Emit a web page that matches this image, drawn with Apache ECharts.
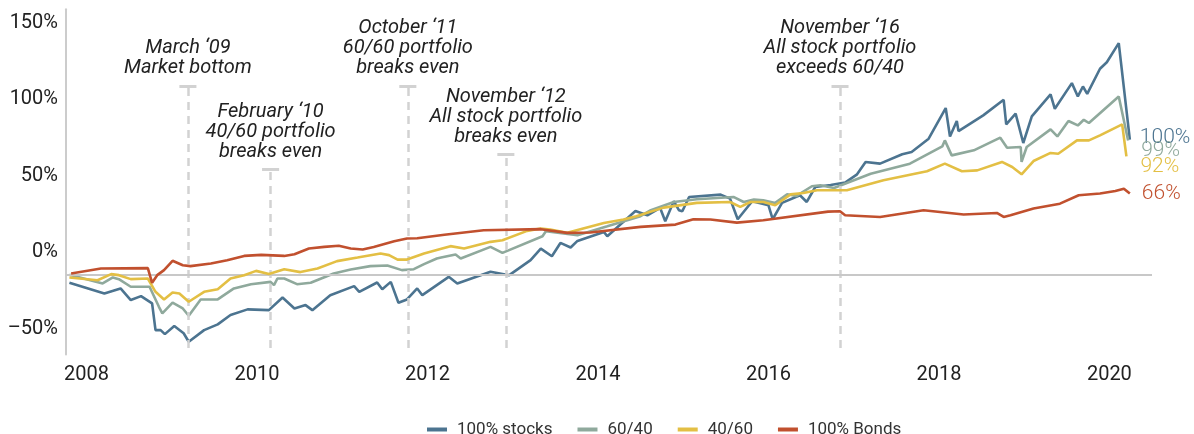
<!DOCTYPE html>
<html>
<head>
<meta charset="utf-8">
<script src="https://cdn.jsdelivr.net/npm/echarts@6/dist/echarts.min.js"></script>
<style>
  html, body { margin: 0; padding: 0; background: #fff; }
  #chart { width: 1194px; height: 434px; }
</style>
</head>
<body>
<div id="chart"></div>
<script>
// cumulative return (%) by date (decimal year)
var stocks = [
  [2007.80,-5],[2008.21,-12],[2008.40,-8.7],[2008.52,-16.3],[2008.64,-13.7],[2008.77,-18.5],
  [2008.81,-36],[2008.87,-36],[2008.92,-38.6],[2009.03,-33.3],[2009.14,-38],[2009.20,-43.6],
  [2009.38,-36],[2009.54,-32.2],[2009.69,-26.1],[2009.89,-22.4],[2010.14,-22.9],[2010.30,-14.6],
  [2010.44,-21.8],[2010.57,-19.6],[2010.65,-22.9],[2010.86,-13.1],[2011.14,-7.2],[2011.20,-10.9],
  [2011.41,-4.8],[2011.47,-9.2],[2011.57,-4.4],[2011.66,-18.1],[2011.76,-15.9],[2011.88,-8.7],
  [2011.94,-13.1],[2012.25,-1.1],[2012.35,-5.4],[2012.74,2.2],[2012.96,0],[2013.21,9.8],
  [2013.33,17.4],[2013.46,12.4],[2013.56,21.1],[2013.68,18.1],[2013.76,22.4],[2014.07,28.3],
  [2014.11,25.5],[2014.44,42],[2014.58,39.2],[2014.73,44],[2014.79,35.3],[2014.89,48.4],
  [2014.95,42.5],[2014.99,41.8],[2015.07,51.2],[2015.44,52.7],[2015.55,50.1],[2015.64,36.6],
  [2015.81,48.4],[2016.00,45.8],[2016.05,36.6],[2016.16,47.3],[2016.37,52.3],[2016.45,47.9],
  [2016.55,57.7],[2016.73,59],[2016.90,60.6],[2017.04,66],[2017.14,74.1],[2017.31,73],
  [2017.57,79.1],[2017.68,80.6],[2017.88,89.3],[2018.08,109.4],[2018.13,90.8],[2018.21,100.9],
  [2018.23,94.3],[2018.52,104.6],[2018.76,114.8],[2018.79,98.7],[2018.90,105.7],[2018.99,86.5],
  [2019.09,103.9],[2019.31,118.3],[2019.36,108.9],[2019.56,125.7],[2019.63,117],[2019.69,123.5],
  [2019.74,118.7],[2019.89,135.1],[2019.97,139.4],[2020.11,151.9],[2020.24,88.7]
];
var mix6040 = [
  [2007.80,0.2],[2008.19,-5.4],[2008.31,-1.5],[2008.38,-2.6],[2008.52,-7.6],[2008.74,-7.6],
  [2008.85,-20.7],[2008.89,-25],[2009.01,-18],[2009.13,-21.8],[2009.20,-26.6],[2009.34,-15.9],
  [2009.54,-15.9],[2009.73,-8.7],[2009.93,-5.9],[2010.16,-4.4],[2010.20,-6.5],[2010.24,-2.2],
  [2010.32,-2.2],[2010.47,-5.9],[2010.63,-5],[2010.90,1.1],[2011.10,3.7],[2011.33,5.9],
  [2011.53,6.3],[2011.70,3.3],[2011.84,3.9],[2011.96,7.2],[2012.11,10.9],[2012.16,11.5],
  [2012.33,13.5],[2012.39,10.9],[2012.74,18.5],[2012.88,14.6],[2013.35,25.5],[2013.39,28.8],
  [2013.76,26.1],[2014.11,32],[2014.50,38.6],[2014.62,42.5],[2014.89,47.9],[2015.16,49.7],
  [2015.59,51.2],[2015.71,47.9],[2015.83,49.5],[2015.94,49],[2016.08,47.3],[2016.22,52.9],
  [2016.33,51.9],[2016.51,58.2],[2016.61,58.8],[2016.77,57.1],[2016.92,60.3],[2017.20,66.4],
  [2017.66,73],[2018.04,84.3],[2018.07,88.2],[2018.15,78.4],[2018.41,81.7],[2018.72,90],
  [2018.80,83.4],[2018.96,83.9],[2018.97,74.1],[2019.03,83.9],[2019.31,95.4],[2019.39,90.8],
  [2019.52,100.9],[2019.63,98],[2019.70,101.7],[2019.76,99.6],[2020.11,117],[2020.22,88.2]
];
var mix4060 = [
  [2007.80,-1.5],[2008.13,-3.3],[2008.29,0.7],[2008.38,0],[2008.52,-2.6],[2008.72,-2.2],
  [2008.81,-10.9],[2008.91,-15.9],[2009.01,-11.3],[2009.09,-12],[2009.20,-17.4],[2009.38,-10.9],
  [2009.54,-9.2],[2009.69,-2.2],[2009.85,0],[2009.99,2.8],[2010.14,0.7],[2010.32,3.9],
  [2010.51,2],[2010.71,4.4],[2010.94,9.2],[2011.18,11.5],[2011.45,14.2],[2011.55,13.1],
  [2011.65,10.2],[2011.76,10.2],[2011.96,14.2],[2012.27,19],[2012.43,17.4],[2012.74,21.8],
  [2012.88,22.9],[2013.17,29],[2013.33,30.5],[2013.44,29.8],[2013.64,27.7],[2014.07,34.2],
  [2014.30,36.4],[2014.45,38.5],[2014.77,44.2],[2015.16,47.3],[2015.55,47.9],[2015.67,44.7],
  [2015.79,47.9],[2015.94,47.9],[2016.08,45.8],[2016.26,52.9],[2016.41,53.8],[2016.57,55.6],
  [2016.92,55.6],[2017.35,62.1],[2017.86,68],[2018.07,73],[2018.27,68],[2018.45,68.6],
  [2018.74,74.1],[2018.86,70.8],[2018.97,66],[2019.11,74.7],[2019.31,80],[2019.40,79.5],
  [2019.62,88.2],[2019.76,88.2],[2019.89,91.5],[2020.15,98.7],[2020.20,77.8]
];
var bonds = [
  [2007.82,1.1],[2008.17,4.4],[2008.72,4.6],[2008.77,-5],[2008.83,0],[2008.91,3.3],
  [2009.01,9.4],[2009.13,6.5],[2009.22,5.9],[2009.46,7.6],[2009.65,9.8],[2009.85,12.6],
  [2010.05,13.3],[2010.32,12.6],[2010.44,13.7],[2010.61,17.4],[2010.79,18.5],[2010.96,19.2],
  [2011.10,17.4],[2011.24,16.8],[2011.37,18.5],[2011.61,22.2],[2011.76,24],[2011.88,24.2],
  [2012.20,26.5],[2012.66,29.4],[2013.33,30.1],[2013.64,27.7],[2013.91,27.9],[2014.50,31.6],
  [2014.91,33.1],[2015.12,36.6],[2015.32,36.4],[2015.63,34.4],[2015.94,35.9],[2016.70,41.6],
  [2016.84,41.8],[2016.90,39.2],[2017.31,38.1],[2017.82,42.5],[2018.29,39.7],[2018.68,40.7],
  [2018.76,38.1],[2018.84,39.2],[2019.11,43.6],[2019.42,46.8],[2019.64,52.3],[2019.89,53.4],
  [2020.07,55.1],[2020.17,56.6],[2020.24,53.4]
];
var seriesNames = ['100% stocks', '60/40', '40/60', '100% Bonds'];
var endTexts = ['100%', '99%', '92%', '66%'];
var yTicks = [-50, 0, 50, 100, 150];
var xTicks = [2008, 2010, 2012, 2014, 2016, 2018, 2020];

// annotations: date, top of the marker line (%), text
var noteDates = [2009.19, 2010.16, 2011.77, 2012.92, 2016.84];
var noteTops = [123.5, 69.1, 123.5, 78.9, 123.5];
var noteTexts = [
  'March ‘09\nMarket bottom',
  'February ‘10\n40/60 portfolio\nbreaks even',
  'October ‘11\n60/60 portfolio\nbreaks even',
  'November ‘12\nAll stock portfolio\nbreaks even',
  'November ‘16\nAll stock portfolio\nexceeds 60/40'
];

var colors = ['#4c7490', '#8fa99c', '#e3bf44', '#c1502e'];
var endOffsets = [[5, -2], [8, 10], [9, 10], [7, 0]];

var chart = echarts.init(document.getElementById('chart'));

var noteLines = [];
noteDates.forEach(function (d, i) {
  // dashed stem with the note text on top
  noteLines.push([
    { coord: [d, -47.7], label: { show: true, formatter: noteTexts[i] } },
    { coord: [d, noteTops[i]] }
  ]);
  // small cap
  noteLines.push([
    { coord: [d - 0.1, noteTops[i]], lineStyle: { type: 'solid', width: 3 } },
    { coord: [d + 0.1, noteTops[i]] }
  ]);
});
noteLines.push([
  { coord: [2007.76, 0], lineStyle: { type: 'solid', color: '#c8c8c8', width: 2 } },
  { coord: [2020.5, 0] }
]);

var dataSets = [stocks, mix6040, mix4060, bonds];
var series = dataSets.map(function (d, i) {
  return {
    name: seriesNames[i],
    type: 'line',
    data: d,
    symbol: 'none',
    z: 3 + i,
    lineStyle: { color: colors[i], width: 2.6 },
    itemStyle: { color: colors[i] },
    endLabel: {
      show: true,
      formatter: endTexts[i],
      color: colors[i],
      fontFamily: 'Roboto',
      fontWeight: 300,
      fontSize: 21,
      distance: 5,
      offset: endOffsets[i]
    }
  };
});
series.unshift({
  name: 'notes',
  type: 'line',
  data: [],
  z: 1,
  markLine: {
    silent: true,
    animation: false,
    symbol: ['none', 'none'],
    lineStyle: { color: '#d2d2d2', type: [8, 6], width: 2.5 },
    label: {
      show: false,
      position: 'end',
      distance: 8,
      color: '#222',
      fontFamily: 'Roboto',
      fontStyle: 'italic',
      fontSize: 20,
      lineHeight: 20,
      align: 'center'
    },
    emphasis: { disabled: true },
    data: noteLines
  }
});

var option = {
  animation: false,
  grid: { left: 66, right: 42, top: 8.8, bottom: 79.4 },
  legend: {
    data: seriesNames,
    left: 422,
    top: 416,
    icon: 'rect',
    itemWidth: 20,
    itemHeight: 4,
    itemGap: 25,
    textStyle: { color: '#333', fontSize: 17, fontFamily: 'Roboto', padding: [0, 0, 0, 5] }
  },
  xAxis: {
    type: 'value',
    min: 2007.76,
    max: 2020.5,
    axisLine: { show: false, onZero: false },
    axisTick: { show: false },
    splitLine: { show: false },
    axisLabel: {
      customValues: xTicks,
      formatter: function (v) { return String(v); },
      color: '#222',
      fontSize: 20,
      fontFamily: 'Roboto',
      margin: 10
    }
  },
  yAxis: {
    type: 'value',
    min: -52,
    max: 174,
    axisLine: { show: true, lineStyle: { color: '#cccccc', width: 2 } },
    axisTick: { show: false },
    splitLine: { show: false },
    axisLabel: {
      customValues: yTicks,
      formatter: function (v) { return String(v).replace('-', '–') + '%'; },
      color: '#222',
      fontSize: 20,
      fontFamily: 'Roboto',
      margin: 8,
      verticalAlign: 'bottom',
      lineHeight: 46
    }
  },
  series: series
};

chart.setOption(option);
</script>
</body>
</html>
